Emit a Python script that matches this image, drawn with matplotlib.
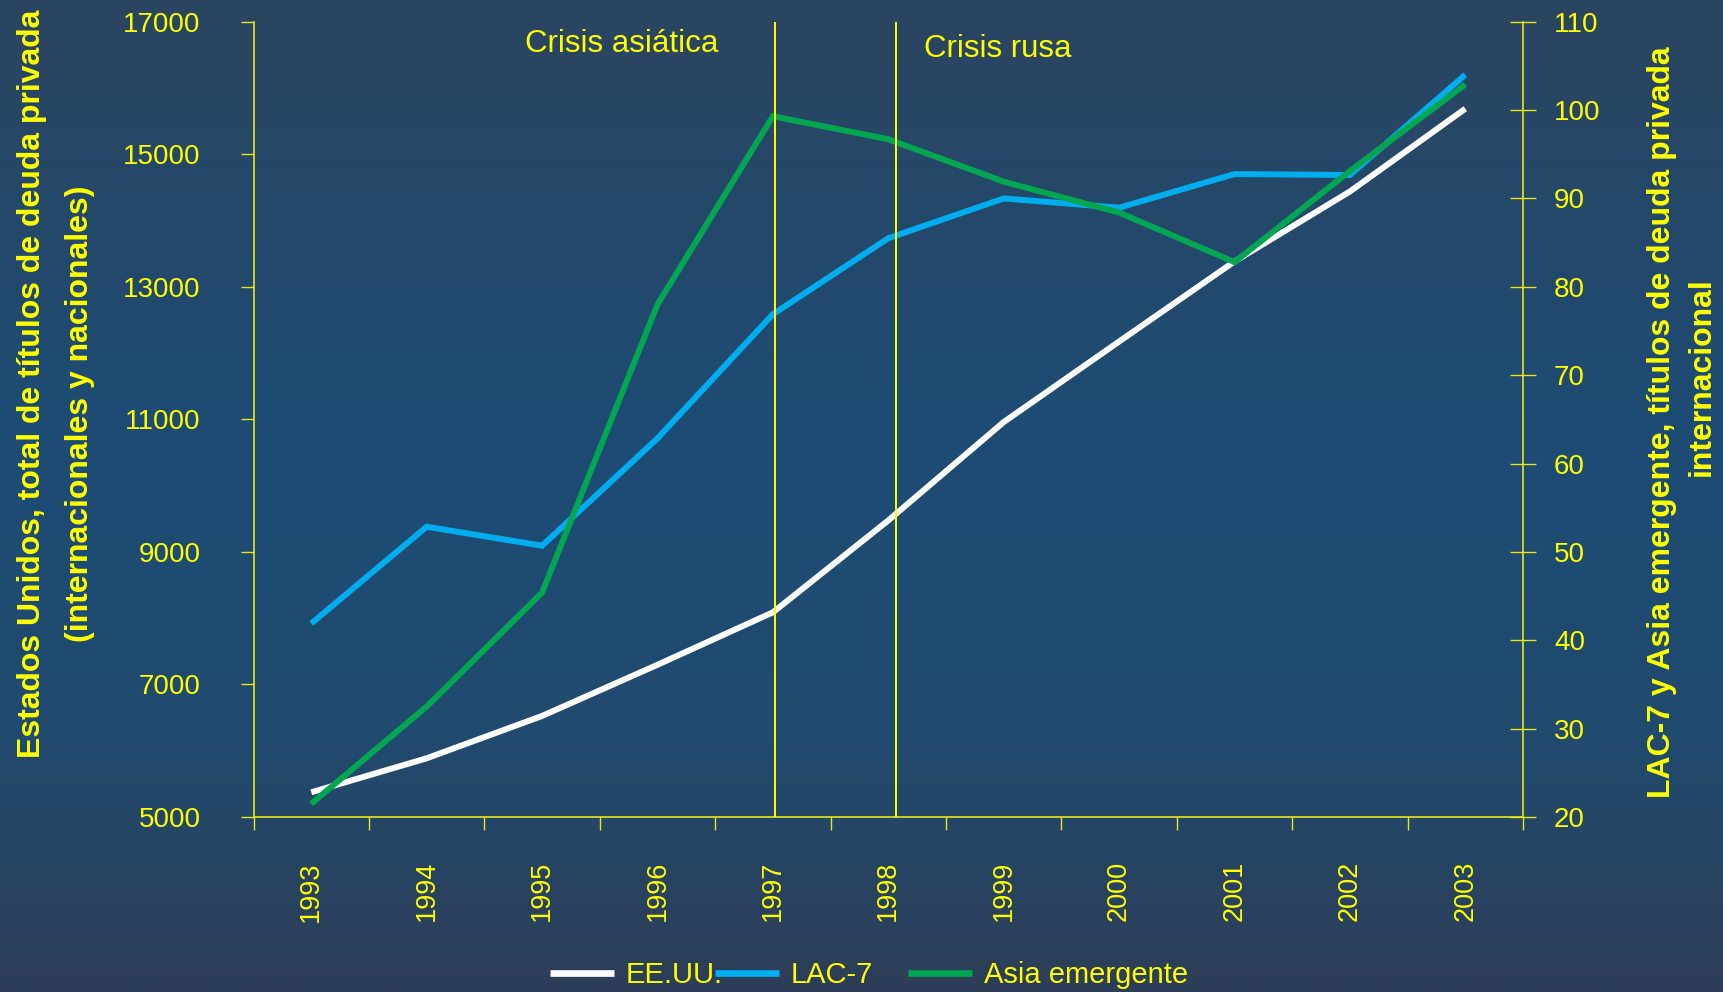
import numpy as np
import matplotlib
matplotlib.use("Agg")
import matplotlib.pyplot as plt
from matplotlib.colors import LinearSegmentedColormap
from matplotlib.ticker import FixedLocator, NullFormatter
from matplotlib.transforms import blended_transform_factory

plt.rcParams["font.family"] = ["Liberation Sans", "DejaVu Sans"]

# ---- data -------------------------------------------------------------
years = ["1993", "1994", "1995", "1996", "1997", "1998",
         "1999", "2000", "2001", "2002", "2003"]
eeuu = [5373, 5886, 6525, 7297, 8088, 9475, 10959, 12174, 13382, 14438, 15687]
lac7 = [41.9, 52.85, 50.7, 62.85, 76.9, 85.5, 90.0, 88.95, 92.76, 92.65, 104.0]
asia = [21.5, 32.5, 45.4, 78.0, 99.3, 96.7, 91.9, 88.4, 82.8, 93.1, 102.9]
left_ticks = [5000, 7000, 9000, 11000, 13000, 15000, 17000]
right_ticks = [20, 30, 40, 50, 60, 70, 80, 90, 100, 110]
crisis_names = ["Crisis asiática", "Crisis rusa"]
crisis_pos = [4.02, 5.07]

YELLOW = "#FFFF00"
AXIS_YELLOW = "#E8E41A"
WHITE = "#FFFFFF"
BLUE = "#00AEEF"
GREEN = "#00A651"

W, H = 1724, 992
fig = plt.figure(figsize=(W / 100, H / 100), dpi=100)

# vertical background gradient
bg = fig.add_axes([0, 0, 1, 1], zorder=-10)
cmap = LinearSegmentedColormap.from_list(
    "bg", [(0.0, "#2B4560"), (0.45, "#1D4C75"), (0.75, "#214A6E"), (1.0, "#2D3E57")])
grad = np.linspace(0, 1, 512).reshape(-1, 1)
bg.imshow(grad, aspect="auto", cmap=cmap, extent=[0, 1, 0, 1], origin="upper")
bg.set_axis_off()

# main axes (pixel layout of the plotting box)
left, right, top, bottom = 253.6, 1523.0, 21.7, 817.0
ax = fig.add_axes([left / W, 1 - bottom / H, (right - left) / W, (bottom - top) / H])
ax.set_facecolor("none")
ax2 = ax.twinx()
ax2.set_facecolor("none")

x = np.arange(len(years))
l_us, = ax.plot(x, eeuu, color=WHITE, lw=4.3, solid_capstyle="butt",
                solid_joinstyle="miter", label="EE.UU.")
l_lac, = ax2.plot(x, lac7, color=BLUE, lw=4.3, solid_capstyle="butt",
                  solid_joinstyle="miter", label="LAC-7", zorder=3)
l_asia, = ax2.plot(x, asia, color=GREEN, lw=4.3, solid_capstyle="butt",
                   solid_joinstyle="miter", label="Asia emergente", zorder=4)

ax.set_xlim(-0.5, len(years) - 0.5)
ax.set_ylim(left_ticks[0], left_ticks[-1])
ax2.set_ylim(right_ticks[0], right_ticks[-1])

# crisis markers
for name, xp in zip(crisis_names, crisis_pos):
    ax2.axvline(xp, color=YELLOW, lw=1.4, zorder=6)
trans = blended_transform_factory(ax.transData, ax.transAxes)
ax2.text(1.853, 0.9625, crisis_names[0], transform=trans, color=YELLOW,
         fontsize=22.5, ha="left", va="baseline")
ax2.text(5.308, 0.956, crisis_names[1], transform=trans, color=YELLOW,
         fontsize=22.5, ha="left", va="baseline")

# spines
for s in ["top", "right"]:
    ax.spines[s].set_visible(False)
for s in ["left", "bottom"]:
    ax.spines[s].set_color(AXIS_YELLOW)
    ax.spines[s].set_linewidth(1.2)
for s in ["top", "left", "bottom"]:
    ax2.spines[s].set_visible(False)
ax2.spines["right"].set_color(AXIS_YELLOW)
ax2.spines["right"].set_linewidth(1.2)

# x axis: labels at category centres, ticks at category boundaries
ax.xaxis.set_major_locator(FixedLocator(x))
ax.set_xticklabels(years, rotation=90)
ax.xaxis.set_minor_locator(FixedLocator(np.arange(-0.5, len(years), 1.0)))
ax.xaxis.set_minor_formatter(NullFormatter())
ax.tick_params(axis="x", which="major", length=0, pad=31.7,
               labelsize=19.5, labelcolor=YELLOW)
ax.tick_params(axis="x", which="minor", length=9.1, width=1.0,
               direction="out", color=AXIS_YELLOW)

# left y axis
ax.yaxis.set_major_locator(FixedLocator(left_ticks))
ax.tick_params(axis="y", length=9.4, width=1.0, direction="out",
               color=AXIS_YELLOW, pad=28.8, labelsize=20, labelcolor=YELLOW)

# right y axis
ax2.yaxis.set_major_locator(FixedLocator(right_ticks))
ax2.tick_params(axis="y", length=18.7, width=1.0, direction="inout",
                color=AXIS_YELLOW, pad=13, labelsize=20, labelcolor=YELLOW)

# axis titles, one text per line
def fx(px):
    return px / W

def fy(py):
    return 1 - py / H

title_kw = dict(color=YELLOW, fontsize=23, fontweight="bold", rotation=90,
                rotation_mode="anchor", ha="center", va="baseline")
fig.text(fx(40), fy(383.7),
         "Estados Unidos, total de títulos de deuda privada", **title_kw)
fig.text(fx(88), fy(413.5), "(internacionales y nacionales)", **title_kw)
fig.text(fx(1670), fy(422.5),
         "LAC-7 y Asia emergente, títulos de deuda privada", **title_kw)
fig.text(fx(1710), fy(376.5), "internacional", **title_kw)

# legend entries
leg_kw = dict(loc="center left", frameon=False, borderpad=0, borderaxespad=0,
              handlelength=2.2, handletextpad=0.4, fontsize=21,
              labelcolor=YELLOW)
for line, xpix in zip([l_us, l_lac, l_asia], [550, 715, 908]):
    lg = fig.legend(handles=[line], labels=[line.get_label()],
                    bbox_to_anchor=(fx(xpix), fy(975)), **leg_kw)
    for h in lg.get_lines():
        h.set_linewidth(4.8)

fig.savefig("out.png", dpi=100)
